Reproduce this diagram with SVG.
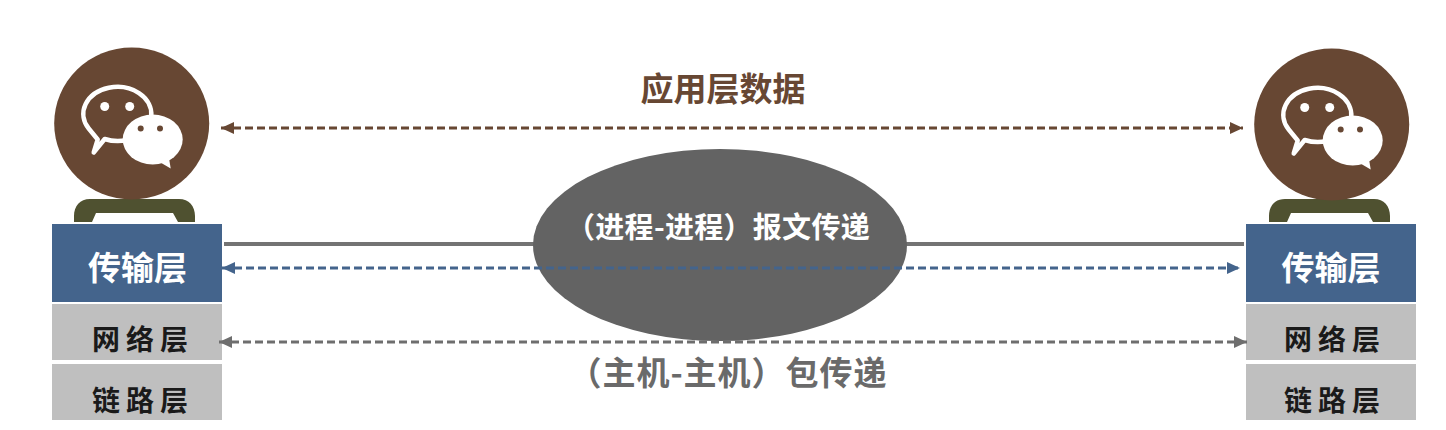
<svg xmlns="http://www.w3.org/2000/svg" width="1446" height="430" viewBox="0 0 1446 430">
<style>
text{font-family:"Noto Sans CJK SC","Liberation Sans",sans-serif;text-anchor:middle}
.t{font-weight:700;font-size:33px;fill:#fff}
.g{font-weight:700;font-size:28px;fill:#1a1a1a;letter-spacing:6px}
.b{fill:#44648c}.s{fill:#bfbfbf}.p{fill:#4f5130}
.c{fill:none;stroke-width:3;stroke-dasharray:8 4}
</style>
<defs>
<marker id="ab" markerUnits="userSpaceOnUse" markerWidth="14" markerHeight="14" refX="14" refY="7" orient="auto-start-reverse"><path d="M14 7L1 1V13Z" fill="#674733"/></marker>
<marker id="ah" markerUnits="userSpaceOnUse" markerWidth="14" markerHeight="14" refX="14" refY="7" orient="auto-start-reverse"><path d="M14 7L1 1V13Z" fill="#44648c"/></marker>
<marker id="ag" markerUnits="userSpaceOnUse" markerWidth="14" markerHeight="14" refX="14" refY="7" orient="auto-start-reverse"><path d="M14 7L1 1V13Z" fill="#6e6e6e"/></marker>
<g id="icon">
<ellipse rx="77.500" ry="76" fill="#674733"/>
<path d="M-27 15.500A34 27 0 1 0 -43 5L-34 16L-38 29Z" fill="#674733" stroke="#fff" stroke-width="4.500" stroke-linejoin="round"/>
<circle cx="-27" cy="-17" r="4.500" fill="#fff"/><circle cx="-2" cy="-17" r="4.500" fill="#fff"/>
<ellipse cx="21" cy="16" rx="30" ry="25" fill="#fff"/>
<path d="M27 38L39 45L37 33Z" fill="#fff"/>
<circle cx="9" cy="5" r="3" fill="#674733"/><circle cx="28.300" cy="5" r="3" fill="#674733"/>
</g>
<path id="ped" d="M0 23V17C0 7 6 0 16 0H105C115 0 121 7 121 17V23H104L99 14H22L18 23Z"/>
</defs>

<g id="left-host">
<use href="#ped" class="p" x="74" y="199"/>
<use href="#icon" x="131.700" y="123.500"/>
</g>
<g id="right-host">
<use href="#ped" class="p" x="1269" y="199"/>
<use href="#icon" x="1331.700" y="124.500"/>
</g>

<g id="left-transport"><rect class="b" x="52" y="224" width="170" height="78"/><text class="t" x="137.500" y="280">传输层</text></g>
<g id="left-network"><rect class="s" x="52" y="304" width="170" height="56"/><text class="g" x="143" y="350">网络层</text></g>
<g id="left-link"><rect class="s" x="52" y="364" width="170" height="56"/><text class="g" x="143" y="411">链路层</text></g>
<g id="right-transport"><rect class="b" x="1246" y="224" width="170" height="78"/><text class="t" x="1331" y="280">传输层</text></g>
<g id="right-network"><rect class="s" x="1246" y="304" width="170" height="56"/><text class="g" x="1335" y="350">网络层</text></g>
<g id="right-link"><rect class="s" x="1246" y="364" width="170" height="56"/><text class="g" x="1335" y="411">链路层</text></g>

<g id="connectors-back">
<line x1="224" y1="244" x2="1244" y2="244" stroke="#737373" stroke-width="4"/>
</g>
<g id="ellipse-node">
<ellipse cx="720" cy="245" rx="187" ry="96" fill="#636363"/>
<text x="718" y="238" font-size="29" font-weight="700" fill="#fff" letter-spacing="0.300">（进程-进程）报文传递</text>
</g>
<g id="connectors">
<line class="c" x1="221" y1="128" x2="1243" y2="128" stroke="#674733" marker-start="url(#ab)" marker-end="url(#ab)"/>
<line class="c" x1="222" y1="268" x2="1240" y2="268" stroke="#44648c" marker-start="url(#ah)" marker-end="url(#ah)"/>
<line class="c" x1="219" y1="342" x2="1247" y2="342" stroke="#6e6e6e" marker-start="url(#ag)" marker-end="url(#ag)"/>
</g>
<g id="labels">
<text x="723" y="101" font-size="33" font-weight="700" fill="#674733">应用层数据</text>
<text x="728" y="385" font-size="33" font-weight="700" fill="#6a6a6a" letter-spacing="1">（主机-主机）包传递</text>
</g>
</svg>
